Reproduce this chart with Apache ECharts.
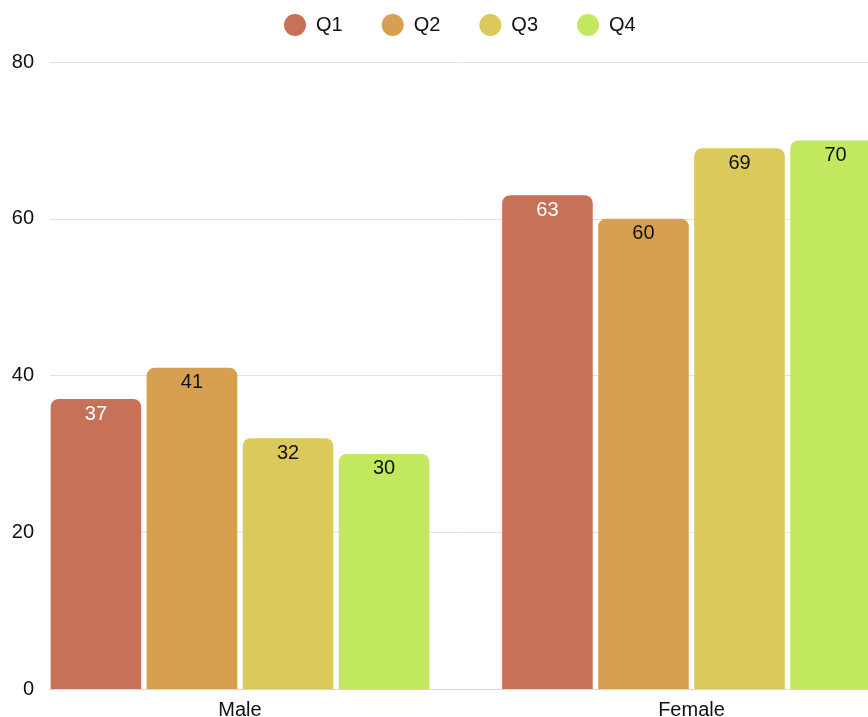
<!DOCTYPE html>
<html>
<head>
<meta charset="utf-8">
<title>Quarterly values by gender</title>
<script src="https://cdn.jsdelivr.net/npm/echarts@6/dist/echarts.min.js"></script>
<style>
  html, body { margin: 0; padding: 0; background: #ffffff; }
  #chart { width: 868px; height: 717px; }
</style>
</head>
<body>
<div id="chart"></div>
<script>
// Categories and quarterly series
const categories = ['Male', 'Female'];
const seriesNames = ['Q1', 'Q2', 'Q3', 'Q4'];
const q1 = [37, 63];
const q2 = [41, 60];
const q3 = [32, 69];
const q4 = [30, 70];
const yMin = 0;
const yMax = 80;
const yStep = 20;

const colors = ['#C77158', '#D6A050', '#DBC95C', '#C1E85E'];
const labelColors = ['#ffffff', '#111111', '#111111', '#111111'];
const font = '"Liberation Sans", Arial, Helvetica, sans-serif';

const chart = echarts.init(document.getElementById('chart'), null, { renderer: 'canvas' });

const values = [q1, q2, q3, q4];
const series = seriesNames.map((name, i) => ({
  name: name,
  type: 'bar',
  xAxisIndex: 1,
  yAxisIndex: 1,
  data: values[i],
  barWidth: 90.6,
  barGap: '6%',
  itemStyle: { color: colors[i], borderRadius: [8, 8, 0, 0] },
  label: {
    show: true,
    position: 'insideTop',
    distance: 5,
    color: labelColors[i],
    fontSize: 20,
    fontFamily: font
  },
  emphasis: { disabled: true }
}));

chart.setOption({
  animation: false,
  backgroundColor: '#ffffff',
  legend: {
    top: 9,
    left: 279,
    icon: 'circle',
    itemWidth: 22,
    itemHeight: 22,
    itemGap: 39,
    data: seriesNames,
    textStyle: { fontSize: 20, fontFamily: font, color: '#111111', padding: [0, 0, 0, 5] }
  },
  grid: [
    // Axis frame: value labels, split lines and baseline
    { left: 50, top: 62, bottom: 28, right: -60, containLabel: false, outerBoundsMode: 'none' },
    // Bars and category labels (plot runs past the right edge)
    { left: 14.25, top: 62, bottom: 28, right: -49.25, containLabel: false, outerBoundsMode: 'none' }
  ],
  xAxis: [
    {
      gridIndex: 0,
      type: 'category',
      data: categories,
      axisLine: { show: true, lineStyle: { color: '#d6d6d6', width: 1 } },
      axisTick: { show: false },
      axisLabel: { show: false },
      splitLine: { show: false }
    },
    {
      gridIndex: 1,
      type: 'category',
      data: categories,
      axisLine: { show: false },
      axisTick: { show: false },
      axisLabel: { show: true, margin: 11, fontSize: 20, fontFamily: font, color: '#111111' },
      splitLine: { show: false }
    }
  ],
  yAxis: [
    {
      gridIndex: 0,
      type: 'value',
      min: yMin,
      max: yMax,
      interval: yStep,
      axisLine: { show: false },
      axisTick: { show: false },
      axisLabel: { margin: 16, fontSize: 20, fontFamily: font, color: '#111111' },
      splitLine: { show: true, lineStyle: { color: '#e2e2e2', width: 1 } }
    },
    {
      gridIndex: 1,
      type: 'value',
      min: yMin,
      max: yMax,
      interval: yStep,
      show: false,
      splitLine: { show: false }
    }
  ],
  series: series
});
</script>
</body>
</html>
